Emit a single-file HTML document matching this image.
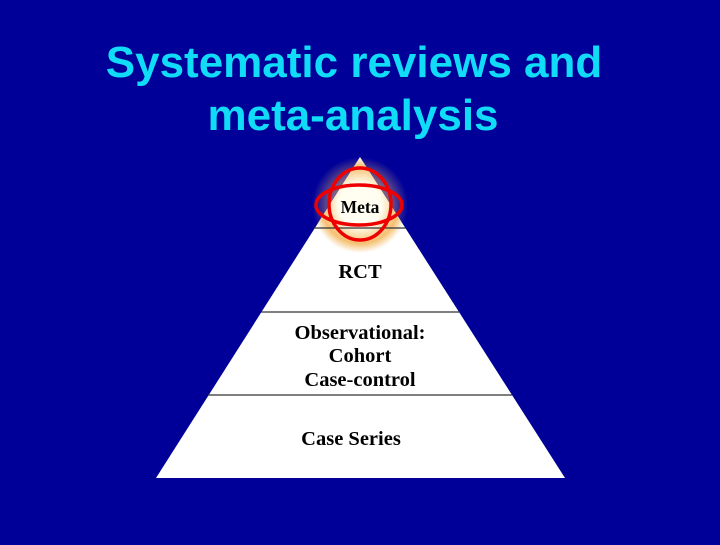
<!DOCTYPE html>
<html><head><style>
body{margin:0;width:720px;height:540px;background:#000099;overflow:hidden;font-family:"Liberation Sans",sans-serif}
</style></head><body>
<svg width="720" height="540" xmlns="http://www.w3.org/2000/svg">
<defs>
<radialGradient id="g" cx="360" cy="205" r="48" gradientUnits="userSpaceOnUse">
<stop offset="0.45" stop-color="#fffef0"/><stop offset="0.8" stop-color="#f5c070"/><stop offset="1" stop-color="#f5c070" stop-opacity="0"/>
</radialGradient>
<radialGradient id="g2" cx="360" cy="205" r="48" gradientUnits="userSpaceOnUse">
<stop offset="0.6" stop-color="#f5c070" stop-opacity="0.5"/><stop offset="1" stop-color="#f5c070" stop-opacity="0"/>
</radialGradient>
<clipPath id="c"><polygon points="360,157 565,478 156,478"/></clipPath>
</defs>
<rect width="720" height="540" fill="#000099"/>
<text x="354" y="77" text-anchor="middle" fill="#10dcf8" font-size="44" font-weight="bold" font-family="Liberation Sans, sans-serif">Systematic reviews and</text>
<text x="353" y="130" text-anchor="middle" fill="#10dcf8" font-size="44" font-weight="bold" font-family="Liberation Sans, sans-serif">meta-analysis</text>
<circle cx="360" cy="205" r="48" fill="url(#g2)"/>
<polygon points="360,157 565,478 156,478" fill="#ffffff"/>
<circle cx="360" cy="205" r="48" fill="url(#g)" clip-path="url(#c)"/>
<g stroke="#333" stroke-width="1.2">
<line x1="314" y1="228" x2="406" y2="228"/>
<line x1="261" y1="312" x2="460" y2="312"/>
<line x1="208" y1="395" x2="512" y2="395"/>
</g>
<g font-family="Liberation Serif, serif" font-weight="bold" fill="#000" text-anchor="middle">
<text x="360" y="213" font-size="17.5">Meta</text>
<text x="360" y="278" font-size="20.5">RCT</text>
<text x="360" y="339" font-size="20.5">Observational:</text>
<text x="360" y="362" font-size="20.5">Cohort</text>
<text x="360" y="386" font-size="20.5">Case-control</text>
<text x="351" y="445" font-size="20.5">Case Series</text>
</g>
<g fill="none" stroke="#ee0000" stroke-width="3.5">
<ellipse cx="359" cy="205" rx="43" ry="20"/>
<ellipse cx="360" cy="204" rx="31" ry="36"/>
</g>
</svg>
</body></html>
